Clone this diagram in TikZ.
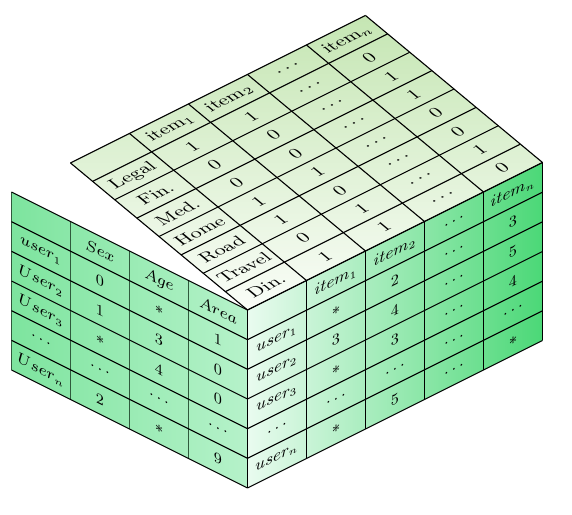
\documentclass[tikz,border=0pt]{standalone}
\begin{document}
\begin{tikzpicture}[x=0.5pt,y=0.5pt,line join=round,
  gridline/.style={line width=0.55pt},
  leftvert/.style={line width=0.55pt,draw=leftline},
  cell/.style={transform shape,inner sep=0pt,font=\fontsize{7.6}{9}\selectfont},
  topcell/.style={transform shape,inner sep=0pt,font=\fontsize{8.8}{10}\selectfont},
]
\definecolor{leftA}{HTML}{7DE49E}
\definecolor{leftB}{HTML}{B6F2CA}
\definecolor{rightA}{HTML}{E9FBEF}
\definecolor{rightB}{HTML}{4BD877}
\definecolor{topA}{HTML}{FAFDF8}
\definecolor{topB}{HTML}{C5E6B3}
\definecolor{leftline}{HTML}{2F5A3C}
\useasboundingbox (0,0) rectangle (572,514);
\coordinate (F) at (247.5,204);
\coordinate (Fb) at (247.5,26);
\coordinate (R) at (542.5,351.5);
\coordinate (Rb) at (542.5,173.5);
\coordinate (L) at (11.5,322);
\coordinate (Lb) at (11.5,144);
\coordinate (TL) at (70.5,351);
\coordinate (B) at (365.5,498.5);

% fills
\shade[left color=leftA,right color=leftB] (L) -- (F) -- (Fb) -- (Lb) -- cycle;
\shade[left color=rightA,right color=rightB] (F) -- (R) -- (Rb) -- (Fb) -- cycle;
\shade[top color=topB,bottom color=topA] (F) -- (R) -- (B) -- (TL) -- cycle;

% left face
\begin{scope}[shift={(L)},yslant=-0.5]
  \foreach \i in {0,...,4} \draw[leftvert] (59*\i,0) -- (59*\i,-178);
  \foreach \j in {0,...,6} \draw[gridline] (0,-29.667*\j) -- (236,-29.667*\j);
  \foreach \col [count=\i from 0] in {
    {{},$user_1$,$User_2$,$User_3$,$\cdots$,$User_n$},
    {$Sex$,0,1,$*$,$\cdots$,2},
    {$Age$,$*$,3,4,$\cdots$,$*$},
    {$Area$,1,0,0,$\cdots$,9}}{
    \foreach \t [count=\j from 0] in \col
      \node[cell] (l\i\j) at ({59*\i+29.5},{-29.667*\j-14.83}) {\t};
  }
\end{scope}

% right face
\begin{scope}[shift={(F)},yslant=0.5]
  \foreach \i in {0,...,5} \draw[gridline] (59*\i,0) -- (59*\i,-178);
  \foreach \j in {0,...,6} \draw[gridline] (0,-29.667*\j) -- (295,-29.667*\j);
  \foreach \col [count=\i from 0] in {
    {{},$user_1$,$user_2$,$user_3$,$\cdots$,$user_n$},
    {$item_1$,$*$,3,$*$,$\cdots$,$*$},
    {$item_2$,2,4,3,$\cdots$,5},
    {$\cdots$,$\cdots$,$\cdots$,$\cdots$,$\cdots$,$\cdots$},
    {$item_n$,3,5,4,$\cdots$,$*$}}{
    \foreach \t [count=\j from 0] in \col
      \node[cell] (r\i\j) at ({59*\i+29.5},{-29.667*\j-14.83}) {\t};
  }
\end{scope}

% top face
\begin{scope}[cm={1,0.5,-0.7458,0.6194,(F)}]
  \foreach \k in {0,...,8} \draw[gridline] (0,29.667*\k) -- (295,29.667*\k);
  \foreach \i in {0,...,5} \draw[gridline] (59*\i,0) -- (59*\i,237.33);
  \foreach \col [count=\i from 0] in {
    {Din.,Travel,Road,Home,Med.,Fin.,Legal,{}},
    {1,0,1,1,0,0,1,item$_1$},
    {1,1,0,1,0,0,1,item$_2$},
    {$\cdots$,$\cdots$,$\cdots$,$\cdots$,$\cdots$,$\cdots$,$\cdots$,$\cdots$},
    {0,1,0,0,1,1,0,item$_n$}}{
    \foreach \t [count=\k from 0] in \col
      \node[topcell] (t\i\k) at ({59*\i+29.5},{29.667*\k+14.83}) {\t};
  }
\end{scope}
\end{tikzpicture}
\end{document}
